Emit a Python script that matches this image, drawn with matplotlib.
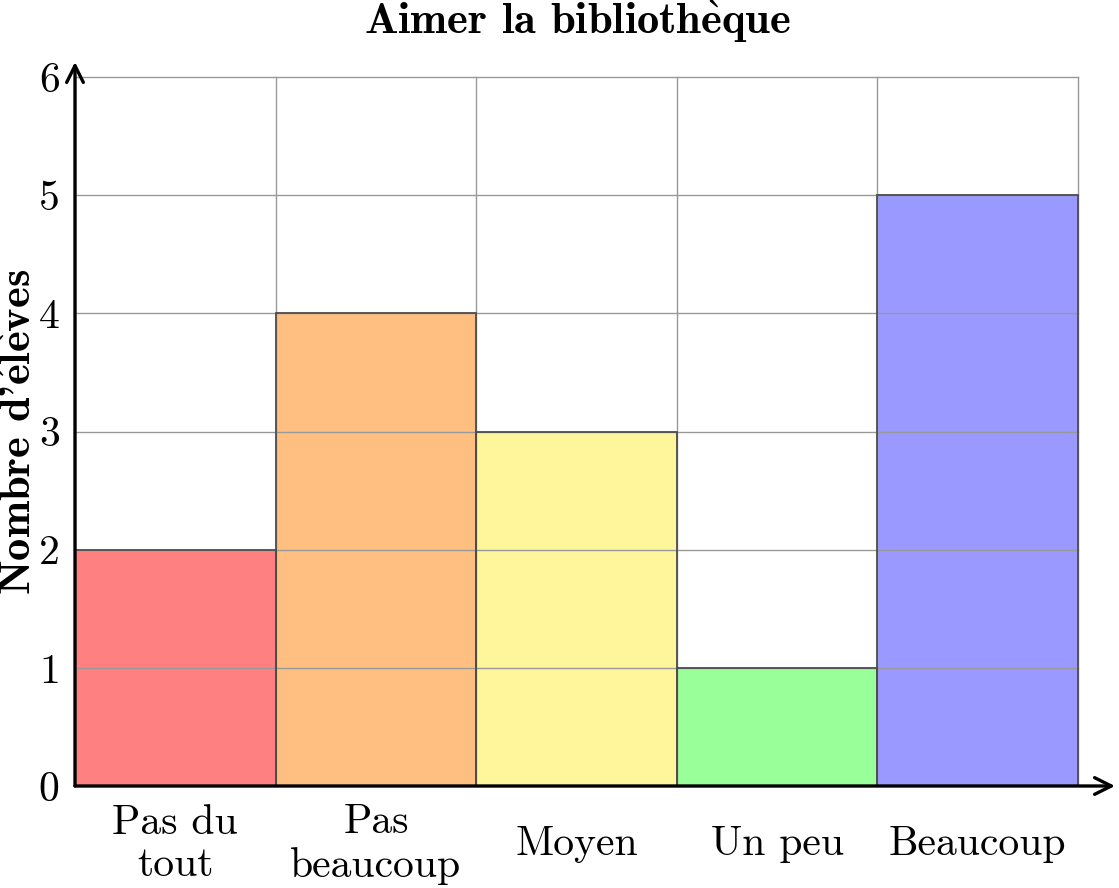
import matplotlib
matplotlib.use("Agg")
import matplotlib.pyplot as plt

# data
categories = ["Pas du\ntout", "Pas\nbeaucoup", "Moyen", "Un peu", "Beaucoup"]
counts = [2, 4, 3, 1, 5]
bar_colors = ["#ff8080", "#ffbf80", "#fff59a", "#99ff99", "#9999ff"]
y_ticks = [0, 1, 2, 3, 4, 5, 6]

plt.rcParams['font.family'] = ['cmr10', 'DejaVu Serif']
plt.rcParams['axes.unicode_minus'] = False
plt.rcParams['mathtext.fontset'] = 'cm'

fig = plt.figure(figsize=(11.19, 8.88), dpi=100)
W, H = 1119, 888
ax = fig.add_axes([75 / W, (H - 786) / H, (1115 - 75) / W, (786 - 62) / H])

xmax = 5 * 1040 / 1003
ymax = 6 * 724 / 709
ax.set_xlim(0, xmax)
ax.set_ylim(0, ymax)

xs = [i + 0.5 for i in range(len(counts))]
ax.bar(xs, counts, width=1, color=bar_colors, edgecolor="none", zorder=1)

# grid on top of the fills
for gx in range(0, len(counts) + 1):
    ax.plot([gx, gx], [0, 6], color="#999999", lw=1, zorder=2)
for gy in y_ticks[1:]:
    ax.plot([0, len(counts)], [gy, gy], color="#999999", lw=1, zorder=2)

ax.bar(xs, counts, width=1, fill=False, edgecolor="#4d4d4d", lw=1.3, zorder=3)

for s in ax.spines.values():
    s.set_visible(False)

ax.annotate("", xy=(xmax, 0), xytext=(0, 0), annotation_clip=False,
            arrowprops=dict(arrowstyle="->", lw=2.4, color="black",
                            mutation_scale=30, shrinkA=0, shrinkB=0), zorder=5)
ax.annotate("", xy=(0, ymax), xytext=(0, 0), annotation_clip=False,
            arrowprops=dict(arrowstyle="->", lw=2.4, color="black",
                            mutation_scale=30, shrinkA=0, shrinkB=0), zorder=5)

ax.set_xticks(xs, categories)
ax.set_yticks(y_ticks, [str(t) for t in y_ticks])
ax.tick_params(axis="x", length=0, pad=42, labelsize=30)
ax.tick_params(axis="y", length=0, pad=11, labelsize=30)
for lab in ax.get_xticklabels():
    lab.set_va("center")
    lab.set_linespacing(1.18)

fig.text(577 / W, 1 - 34 / H, r"Aimer la biblioth$\mathbf{\grave{e}}$que",
         ha="center", va="baseline", fontsize=32, family=['cmb10', 'DejaVu Serif'])
fig.text(31 / W, 1 - 432 / H, r"Nombre d'$\mathbf{\acute{e}l\grave{e}}$ves",
         ha="center", va="baseline", rotation=90, rotation_mode="anchor",
         fontsize=32, family=['cmb10', 'DejaVu Serif'])

fig.savefig("out.png", dpi=100)
